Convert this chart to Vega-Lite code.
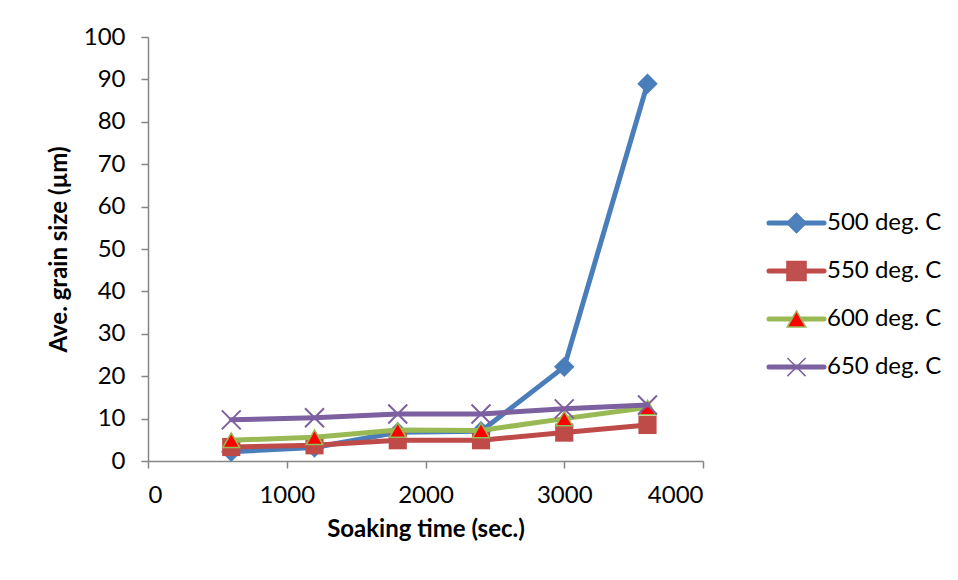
{
  "$schema": "https://vega.github.io/schema/vega-lite/v6.json",
  "background": "white",
  "padding": {"left": 47, "top": 25, "right": 0, "bottom": 0},
  "datasets": {
    "grain": [
      {"series": "500 deg. C", "time": 600, "size": 2.2},
      {"series": "500 deg. C", "time": 1200, "size": 3.2},
      {"series": "500 deg. C", "time": 1800, "size": 6.8},
      {"series": "500 deg. C", "time": 2400, "size": 7.0},
      {"series": "500 deg. C", "time": 3000, "size": 22.2},
      {"series": "500 deg. C", "time": 3600, "size": 89.0},
      {"series": "550 deg. C", "time": 600, "size": 3.3},
      {"series": "550 deg. C", "time": 1200, "size": 3.7},
      {"series": "550 deg. C", "time": 1800, "size": 4.9},
      {"series": "550 deg. C", "time": 2400, "size": 4.9},
      {"series": "550 deg. C", "time": 3000, "size": 6.7},
      {"series": "550 deg. C", "time": 3600, "size": 8.5},
      {"series": "600 deg. C", "time": 600, "size": 4.9},
      {"series": "600 deg. C", "time": 1200, "size": 5.6},
      {"series": "600 deg. C", "time": 1800, "size": 7.3},
      {"series": "600 deg. C", "time": 2400, "size": 7.2},
      {"series": "600 deg. C", "time": 3000, "size": 10.0},
      {"series": "600 deg. C", "time": 3600, "size": 12.6},
      {"series": "650 deg. C", "time": 600, "size": 9.7},
      {"series": "650 deg. C", "time": 1200, "size": 10.2},
      {"series": "650 deg. C", "time": 1800, "size": 11.1},
      {"series": "650 deg. C", "time": 2400, "size": 11.1},
      {"series": "650 deg. C", "time": 3000, "size": 12.3},
      {"series": "650 deg. C", "time": 3600, "size": 13.2}
    ],
    "keys": [
      {"series": "500 deg. C", "row": 0},
      {"series": "550 deg. C", "row": 1},
      {"series": "600 deg. C", "row": 2},
      {"series": "650 deg. C", "row": 3}
    ]
  },
  "bounds": "flush",
  "spacing": 66,
  "hconcat": [
    {
      "width": 555,
      "height": 424,
      "data": {"name": "grain"},
      "encoding": {
        "x": {
          "field": "time",
          "type": "quantitative",
          "scale": {"domain": [0, 4000], "nice": false},
          "axis": {"values": [0, 1000, 2000, 3000, 4000], "format": "d", "title": "Soaking time (sec.)"}
        },
        "y": {
          "field": "size",
          "type": "quantitative",
          "scale": {"domain": [0, 100], "nice": false},
          "axis": {"values": [0, 10, 20, 30, 40, 50, 60, 70, 80, 90, 100], "format": "d", "title": "Ave. grain size (µm)"}
        }
      },
      "layer": [
        {
          "transform": [{"filter": "datum.series === '500 deg. C'"}],
          "mark": {"type": "line", "color": "#4A7EBB", "strokeWidth": 5, "strokeCap": "round", "strokeJoin": "round"}
        },
        {
          "transform": [{"filter": "datum.series === '500 deg. C'"}],
          "mark": {"type": "point", "shape": "diamond", "filled": true, "color": "#4A7EBB", "size": 420, "opacity": 1}
        },
        {
          "transform": [{"filter": "datum.series === '550 deg. C'"}],
          "mark": {"type": "line", "color": "#BE4B48", "strokeWidth": 5, "strokeCap": "round", "strokeJoin": "round"}
        },
        {
          "transform": [{"filter": "datum.series === '550 deg. C'"}],
          "mark": {"type": "point", "shape": "square", "filled": true, "color": "#BE4B48", "size": 330, "opacity": 1}
        },
        {
          "transform": [{"filter": "datum.series === '600 deg. C'"}],
          "mark": {"type": "line", "color": "#98B954", "strokeWidth": 5, "strokeCap": "round", "strokeJoin": "round"}
        },
        {
          "transform": [{"filter": "datum.series === '600 deg. C'"}],
          "mark": {"type": "point", "shape": "triangle-up", "fill": "#FF0000", "stroke": "#98B954", "strokeWidth": 1.5, "size": 280, "opacity": 1}
        },
        {
          "transform": [{"filter": "datum.series === '650 deg. C'"}],
          "mark": {"type": "line", "color": "#7D60A0", "strokeWidth": 5, "strokeCap": "round", "strokeJoin": "round"}
        },
        {
          "transform": [{"filter": "datum.series === '650 deg. C'"}],
          "mark": {"type": "point", "shape": "M-1,-1L1,1M-1,1L1,-1", "filled": false, "color": "#7D60A0", "strokeWidth": 2, "size": 360, "opacity": 1}
        }
      ]
    },
    {
      "width": 165,
      "height": 424,
      "data": {"name": "keys"},
      "encoding": {
        "y": {
          "field": "row",
          "type": "quantitative",
          "scale": {"domain": [-3.875, 4.958], "reverse": true, "nice": false, "zero": false},
          "axis": null
        }
      },
      "layer": [
        {
          "mark": {"type": "rule", "strokeWidth": 5, "strokeCap": "round"},
          "encoding": {
            "x": {"datum": 0, "type": "quantitative", "scale": {"domain": [0, 3], "nice": false}, "axis": null},
            "x2": {"datum": 1},
            "color": {
              "field": "series",
              "type": "nominal",
              "scale": {"domain": ["500 deg. C", "550 deg. C", "600 deg. C", "650 deg. C"], "range": ["#4A7EBB", "#BE4B48", "#98B954", "#7D60A0"]},
              "legend": null
            }
          }
        },
        {
          "mark": {"type": "point", "strokeWidth": 1.5, "opacity": 1},
          "encoding": {
            "x": {"datum": 0.5, "type": "quantitative"},
            "shape": {
              "field": "series",
              "type": "nominal",
              "scale": {"domain": ["500 deg. C", "550 deg. C", "600 deg. C", "650 deg. C"], "range": ["diamond", "square", "triangle-up", "M-1,-1L1,1M-1,1L1,-1"]},
              "legend": null
            },
            "fill": {
              "field": "series",
              "type": "nominal",
              "scale": {"domain": ["500 deg. C", "550 deg. C", "600 deg. C", "650 deg. C"], "range": ["#4F81BD", "#C0504D", "#FF0000", "transparent"]},
              "legend": null
            },
            "stroke": {
              "field": "series",
              "type": "nominal",
              "scale": {"domain": ["500 deg. C", "550 deg. C", "600 deg. C", "650 deg. C"], "range": ["#4A7EBB", "#BE4B48", "#98B954", "#7D60A0"]},
              "legend": null
            },
            "size": {
              "field": "series",
              "type": "ordinal",
              "scale": {"domain": ["500 deg. C", "550 deg. C", "600 deg. C", "650 deg. C"], "range": [380, 330, 260, 340]},
              "legend": null
            }
          }
        },
        {
          "mark": {"type": "text", "align": "left", "baseline": "middle", "font": "Lato", "fontSize": 24, "color": "#000000"},
          "encoding": {
            "x": {"datum": 1.055, "type": "quantitative"},
            "text": {"field": "series", "type": "nominal"}
          }
        }
      ]
    }
  ],
  "config": {
    "view": {"stroke": null},
    "axis": {
      "grid": false,
      "domainColor": "#868686",
      "domainWidth": 1.5,
      "tickColor": "#868686",
      "tickWidth": 1.5,
      "tickSize": 7,
      "labelFont": "Lato",
      "labelFontSize": 24,
      "labelColor": "#000000",
      "titleFont": "Lato",
      "titleFontSize": 24,
      "titleFontWeight": "bold",
      "titleColor": "#000000"
    },
    "axisY": {"labelPadding": 16, "titlePadding": 12},
    "axisX": {"labelPadding": 15, "titlePadding": 10}
  }
}
